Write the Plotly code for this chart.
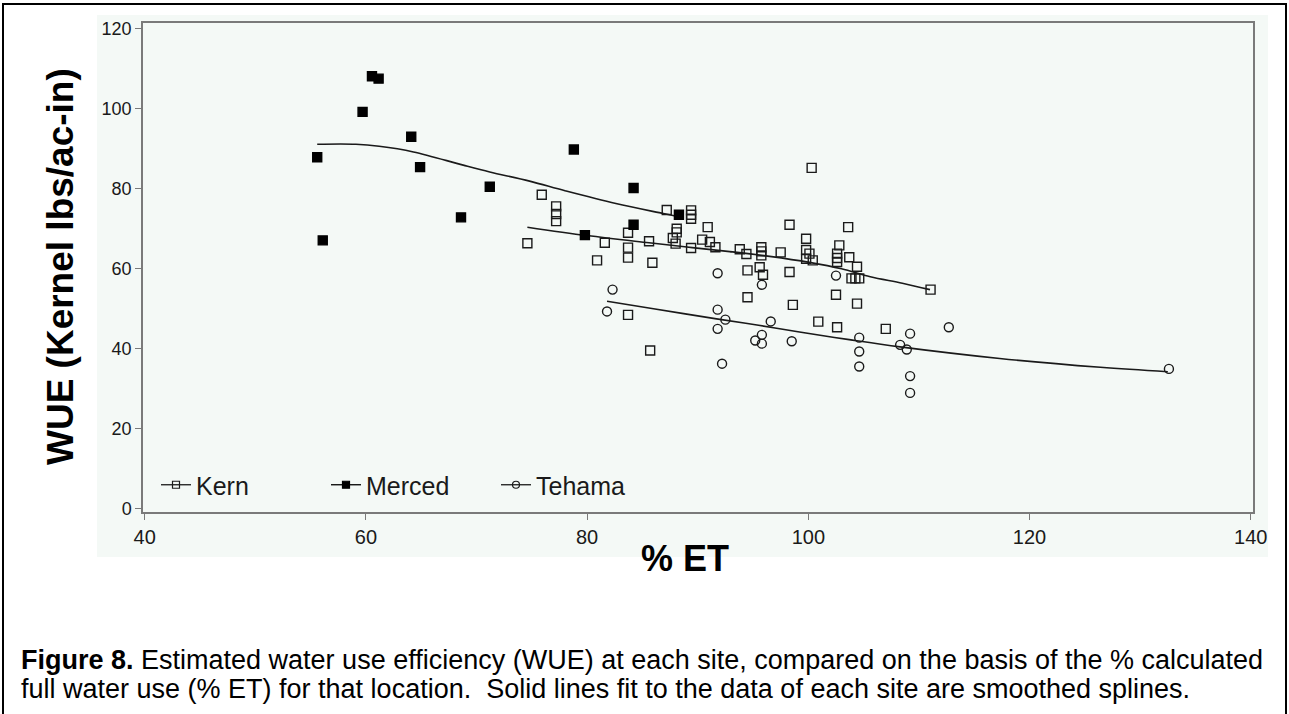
import plotly.graph_objects as go

# ---------------- data ----------------
kern_x = [74.6, 75.9, 77.2, 77.2, 77.2, 80.9, 81.6, 83.7, 83.7, 83.7, 83.7, 85.6, 85.9, 85.7,
          87.2, 87.75, 88.1, 88.1, 88.0, 89.4, 89.4, 89.4, 89.4, 90.9, 90.4, 91.1, 91.6,
          93.8, 94.4, 94.5, 94.5, 95.75, 95.75, 95.75, 95.6, 95.9, 97.5, 98.3, 98.3, 98.6,
          100.3, 99.8, 99.8, 100.1, 99.8, 100.4, 100.9, 102.8, 102.6, 102.6, 102.6, 103.6,
          103.7, 104.4, 103.9, 104.25, 104.6, 102.5, 104.4, 102.6, 107.0, 111.05]
kern_y = [66.3, 78.4, 75.5, 73.6, 71.8, 62.0, 66.4, 68.9, 65.2, 62.7, 48.4, 66.8, 61.4, 39.5,
          74.6, 67.6, 69.9, 69.0, 66.2, 74.5, 73.4, 72.4, 65.1, 70.3, 67.2, 66.6, 65.3,
          64.8, 63.6, 59.5, 52.8, 65.3, 64.25, 63.25, 60.3, 58.4, 64.0, 70.9, 59.1, 50.9,
          85.1, 67.4, 64.6, 63.7, 62.4, 62.0, 46.7, 65.75, 63.7, 62.6, 61.6, 70.3,
          62.8, 60.4, 57.5, 57.5, 57.5, 53.4, 51.2, 45.3, 44.9, 54.7]

merced_x = [55.6, 56.1, 59.7, 60.55, 61.15, 64.1, 64.9, 68.6, 71.2, 78.8, 79.8, 84.2, 84.2, 88.3]
merced_y = [87.75, 67.0, 99.1, 108.0, 107.4, 92.9, 85.3, 72.75, 80.4, 89.7, 68.3, 80.1, 70.9, 73.4]

tehama_x = [81.8, 82.3, 91.8, 91.8, 92.5, 91.8, 92.2, 95.8, 96.6, 95.8, 95.2, 95.8, 98.5,
            102.5, 104.6, 104.6, 104.6, 108.3, 108.9, 109.2, 109.2, 109.2, 112.7, 132.6]
tehama_y = [49.25, 54.7, 58.8, 49.7, 47.2, 44.9, 36.2, 55.9, 46.75, 43.4, 42.0, 41.2, 41.8,
            58.2, 42.7, 39.25, 35.5, 40.9, 39.75, 43.7, 33.1, 28.9, 45.3, 34.9]

# smoothed-spline curves, knots
merced_fit_x = [55.6, 59.1, 61.2, 64.3, 68.8, 71.2, 74.8, 78.0, 82.6, 86.9, 88.3]
merced_fit_y = [91.0, 91.0, 90.5, 89.1, 85.8, 84.1, 81.8, 79.4, 76.2, 73.7, 72.9]
kern_fit_x = [74.6, 80.0, 85.6, 89.5, 92.9, 96.5, 100.1, 103.0, 105.6, 108.5, 111.0]
kern_fit_y = [70.3, 68.2, 66.4, 65.2, 64.2, 63.0, 61.5, 59.9, 57.9, 56.3, 54.7]
tehama_fit_x = [81.8, 86.0, 91.7, 95.5, 99.2, 103.7, 108.3, 117.3, 126.4, 132.5]
tehama_fit_y = [51.8, 49.9, 47.4, 45.8, 44.1, 42.2, 40.4, 37.5, 35.3, 34.2]

sites = ["Kern", "Merced", "Tehama"]
x_ticks = [40, 60, 80, 100, 120, 140]
y_ticks = [0, 20, 40, 60, 80, 100, 120]

# ---------------- figure ----------------
W, H = 1289, 714
L, R, T, B = 143, 36, 23, 202
pw, ph = W - L - R, H - T - B


def px_x(p):
    return (p - L) / pw


def px_y(p):
    return (H - B - p) / ph


BG = "#f4f9f6"
INK = "#1a1a1a"

fig = go.Figure()

for fx, fy in [(merced_fit_x, merced_fit_y), (kern_fit_x, kern_fit_y), (tehama_fit_x, tehama_fit_y)]:
    fig.add_trace(go.Scatter(x=fx, y=fy, mode="lines", line=dict(color=INK, width=1.6, shape="spline"),
                             showlegend=False, hoverinfo="skip"))

styles = {
    "Kern": dict(symbol="square-open", color=INK),
    "Merced": dict(symbol="square", color="#000000"),
    "Tehama": dict(symbol="circle-open", color=INK),
}
series = {"Kern": (kern_x, kern_y), "Merced": (merced_x, merced_y), "Tehama": (tehama_x, tehama_y)}

for s in sites:
    sx, sy = series[s]
    st = styles[s]
    fig.add_trace(go.Scatter(x=sx, y=sy, mode="markers", name=s, legendgroup=s, showlegend=False,
                             marker=dict(symbol=st["symbol"], size=9, color=st["color"],
                                         line=dict(width=1.4, color=st["color"]))))
    # legend swatch (SAS style: line through marker)
    fig.add_trace(go.Scatter(x=[None], y=[None], mode="lines+markers", name=s, legendgroup=s,
                             line=dict(color=st["color"], width=1.3),
                             marker=dict(symbol=st["symbol"], size=7, color=st["color"],
                                         line=dict(width=1.2, color=st["color"]))))

fig.update_layout(
    width=W, height=H,
    margin=dict(l=L, r=R, t=T, b=B, pad=0),
    paper_bgcolor="white",
    plot_bgcolor=BG,
    font=dict(family="Liberation Sans, Arial, sans-serif", color=INK),
    showlegend=True,
    legend=dict(orientation="h", x=px_x(156), y=px_y(485), xanchor="left", yanchor="middle",
                bgcolor="rgba(0,0,0,0)", font=dict(size=25, color=INK),
                entrywidth=125, entrywidthmode="pixels", itemwidth=30),
    xaxis=dict(range=[39.85, 140.2], tickvals=x_ticks, ticktext=[str(v) for v in x_ticks],
               showgrid=False, zeroline=False, showline=True, linecolor="#7a7a7a", linewidth=1.5,
               mirror=True, ticks="outside", ticklen=6, tickcolor="#7a7a7a",
               tickfont=dict(size=20, color=INK), automargin=False),
    yaxis=dict(range=[-0.85, 121.3], tickvals=y_ticks, ticktext=[str(v) for v in y_ticks],
               showgrid=False, zeroline=False, showline=True, linecolor="#7a7a7a", linewidth=1.5,
               mirror=True, ticks="outside", ticklen=6, tickcolor="#7a7a7a",
               tickfont=dict(size=18, color=INK), automargin=False),
    shapes=[
        dict(type="rect", xref="paper", yref="paper", layer="below",
             x0=px_x(97), x1=px_x(1268), y0=px_y(557), y1=px_y(15),
             fillcolor=BG, line=dict(width=0)),
        dict(type="rect", xref="paper", yref="paper", layer="above",
             x0=px_x(3), x1=px_x(1286), y0=px_y(740), y1=px_y(4),
             fillcolor="rgba(0,0,0,0)", line=dict(color="#000000", width=2)),
    ],
    annotations=[
        dict(text="<b>WUE (Kernel lbs/ac-in)</b>", xref="paper", yref="paper",
             x=px_x(60), y=px_y(267), textangle=-90, showarrow=False,
             xanchor="center", yanchor="middle", font=dict(size=37, color="#000000")),
        dict(text="<b>% ET</b>", xref="paper", yref="paper",
             x=px_x(685), y=px_y(558), showarrow=False,
             xanchor="center", yanchor="middle", font=dict(size=36, color="#000000")),
        dict(text="<b>Figure 8.</b> Estimated water use efficiency (WUE) at each site, compared on the basis of the % calculated",
             xref="paper", yref="paper", x=px_x(19), y=px_y(660), showarrow=False,
             xanchor="left", yanchor="middle", font=dict(size=27, color="#000000")),
        dict(text="full water use (% ET) for that location.&nbsp; Solid lines fit to the data of each site are smoothed splines.",
             xref="paper", yref="paper", x=px_x(19), y=px_y(689), showarrow=False,
             xanchor="left", yanchor="middle", font=dict(size=27, color="#000000")),
    ],
)

fig.write_html("out.html", config={"displayModeBar": False},
               post_script="document.body.style.margin='0px';")
